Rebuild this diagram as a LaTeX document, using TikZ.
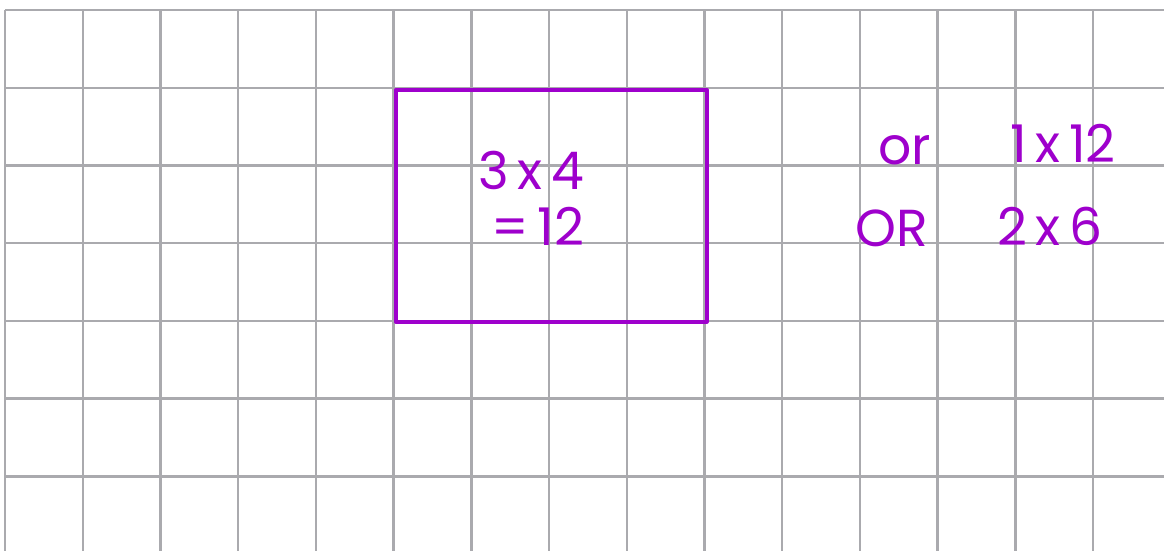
\documentclass[tikz,border=0pt]{standalone}
\usepackage{fontspec}
\setmainfont{Poppins}
\definecolor{gridgray}{RGB}{170,170,174}
\definecolor{ink}{RGB}{158,0,204}
\begin{document}
\begin{tikzpicture}[x=1pt,y=-1pt,
  gridline/.style={draw=gridgray,line width=2.4pt},
  box/.style={draw=ink,line width=3.6pt,line cap=round,line join=round,minimum width=311pt,minimum height=232pt,inner sep=0pt,anchor=north west},
  hand/.style={text=ink,font=\fontsize{52}{56}\selectfont,inner sep=0pt,anchor=center}]
\useasboundingbox (0,0) rectangle (1164,551);
\fill[white] (0,0) rectangle (1164,551);
\foreach \i in {0,...,14}{\draw[gridline] ({5+77.72*\i},10) -- ({5+77.72*\i},551);}
\foreach \j in {0,...,6}{\draw[gridline] (5,{10+77.72*\j}) -- (1164,{10+77.72*\j});}
\node[box] (rect) at (394,88) {};
\node[hand] (area) at (531,170) {3\,x\,4};
\node[hand] (eq) at (538,226) {=\,12};
\node[hand] (or1) at (905,150) {or};
\node[hand] (p1) at (1063,143) {1\,x\,12};
\node[hand] (or2) at (892,228) {OR};
\node[hand] (p2) at (1050,226) {2\,x\,6};
\end{tikzpicture}
\end{document}
